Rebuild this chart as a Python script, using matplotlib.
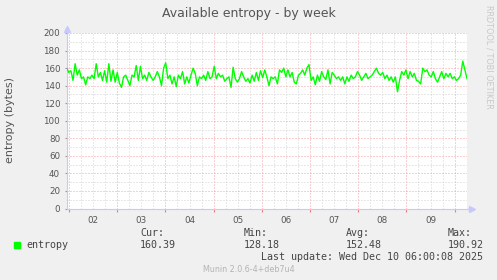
import numpy as np
import matplotlib.pyplot as plt
from matplotlib.patches import Rectangle

# entropy samples (bytes), left to right
entropy = [
    160, 155, 157, 146, 165, 152, 158, 148, 150, 141, 150, 148, 152, 148, 165, 150,
    155, 146, 157, 144, 165, 145, 158, 144, 155, 143, 138, 150, 152, 146, 140, 152,
    150, 163, 146, 162, 148, 152, 146, 155, 150, 146, 150, 156, 150, 140, 160, 166,
    148, 152, 142, 150, 139, 152, 148, 156, 142, 150, 143, 152, 160, 154, 140, 150,
    148, 152, 146, 156, 148, 150, 162, 148, 154, 150, 152, 145, 148, 150, 138, 161,
    148, 144, 148, 156, 150, 145, 148, 143, 152, 145, 155, 146, 157, 149, 158, 150,
    140, 150, 148, 150, 142, 158, 155, 160, 150, 158, 150, 155, 144, 142, 152, 154,
    158, 152, 160, 164, 146, 150, 141, 152, 145, 156, 150, 147, 158, 142, 155, 152,
    148, 150, 146, 150, 142, 150, 145, 152, 148, 150, 156, 152, 146, 150, 154, 148,
    150, 152, 156, 160, 154, 152, 155, 148, 152, 146, 150, 144, 150, 133, 146, 156,
    152, 158, 148, 156, 150, 154, 146, 145, 142, 160, 156, 158, 152, 150, 156, 148,
    144, 150, 156, 148, 154, 150, 154, 148, 150, 146, 148, 152, 168, 158, 148,
]
day_labels = ['02', '03', '04', '05', '06', '07', '08', '09']
stat_names = ['Cur:', 'Min:', 'Avg:', 'Max:']
stat_values = ['160.39', '128.18', '152.48', '190.92']

# time span in days counted from Dec 02 00:00
t_start, t_end = -0.048, 8.257
t = np.linspace(t_start, t_end, len(entropy))

bg = '#f0f0f0'
txt = '#555555'
axis_col = '#c8c8ff'

fig = plt.figure(figsize=(4.97, 2.80), dpi=100, facecolor=bg)
W, H = 497, 280
ax = fig.add_axes([66.7 / W, 1 - 208.5 / H, (467 - 66.7) / W, (208.5 - 33) / H])
ax.set_facecolor('white')

ax.plot(t, entropy, color='#00ff00', lw=1.0, zorder=3)

ax.set_xlim(t_start, t_end)
ax.set_ylim(0, 200)

# grid: red dotted majors, grey dotted minors
ax.set_xticks(np.arange(0, 9))
ax.set_xticklabels([])
ax.set_xticks(np.arange(0, 8.26, 0.25), minor=True)
ax.set_yticks(np.arange(0, 201, 20))
ax.set_yticks(np.arange(0, 201, 10), minor=True)
ax.grid(which='minor', color='#d2d2d2', linestyle=(0, (1, 2)), lw=0.72)
ax.grid(which='major', color='#f5a0a0', linestyle=(0, (1, 2)), lw=0.72)
ax.set_axisbelow(True)

ax.tick_params(axis='x', which='major', length=2.5, color='#f08080', direction='out')
ax.tick_params(axis='x', which='minor', length=0)
ax.tick_params(axis='y', which='major', length=1.5, color='#999999',
               labelsize=6.3, labelcolor=txt, pad=3.2)
ax.tick_params(axis='y', which='minor', length=0)

for i, lab in enumerate(day_labels):
    ax.text(i + 0.5, -13.5, lab, ha='center', va='center', fontsize=6.3,
            color=txt, clip_on=False)

for s in ['top', 'right']:
    ax.spines[s].set_visible(False)
for s in ['left', 'bottom']:
    ax.spines[s].set_color(axis_col)
    ax.spines[s].set_linewidth(0.8)

# axis arrows
ax.plot([0, 0], [1, 1.02], color=axis_col, lw=0.8, transform=ax.transAxes, clip_on=False)
ax.plot([1, 1.01], [0, 0], color=axis_col, lw=0.8, transform=ax.transAxes, clip_on=False)
ax.plot(0, 1.025, marker='^', ms=4, color=axis_col, transform=ax.transAxes, clip_on=False)
ax.plot(1.0135, 0, marker='>', ms=4, color=axis_col, transform=ax.transAxes, clip_on=False)

fig.text(0.5, 1 - 13 / H, 'Available entropy - by week', ha='center', va='center',
         fontsize=9, color=txt)
fig.text(10 / W, 1 - 120 / H, 'entropy (bytes)', rotation=90, ha='center', va='center',
         fontsize=8, color=txt)
fig.text(488.5 / W, 1 - 56.5 / H, 'RRDTOOL / TOBI OETIKER', rotation=270, ha='center',
         va='center', fontsize=5.9, color='#c8c8c8')

# legend block
mono = 'DejaVu Sans Mono'
leg_col = '#444444'
fig.patches.append(Rectangle((14 / W, 1 - 247.5 / H), 6 / W, 5.5 / H,
                             transform=fig.transFigure, color='#00ff00'))
fig.text(26.7 / W, 1 - 245.5 / H, 'entropy', family=mono, fontsize=7.2,
         color=leg_col, va='center')
xs = [140, 243.7, 345.7, 447.3]
for x, name, val in zip(xs, stat_names, stat_values):
    fig.text(x / W, 1 - 233.5 / H, name, family=mono, fontsize=7.2,
             color=leg_col, va='center')
    fig.text(x / W, 1 - 245.5 / H, val, family=mono, fontsize=7.2,
             color=leg_col, va='center')
fig.text(483.3 / W, 1 - 257 / H, 'Last update: Wed Dec 10 06:00:08 2025', family=mono,
         fontsize=7.2, color=leg_col, va='center', ha='right')
fig.text(249 / W, 1 - 270 / H, 'Munin 2.0.6-4+deb7u4', fontsize=5.75,
         color='#b4b4b4', ha='center', va='center')

fig.savefig('out.png', dpi=100, facecolor=bg)
